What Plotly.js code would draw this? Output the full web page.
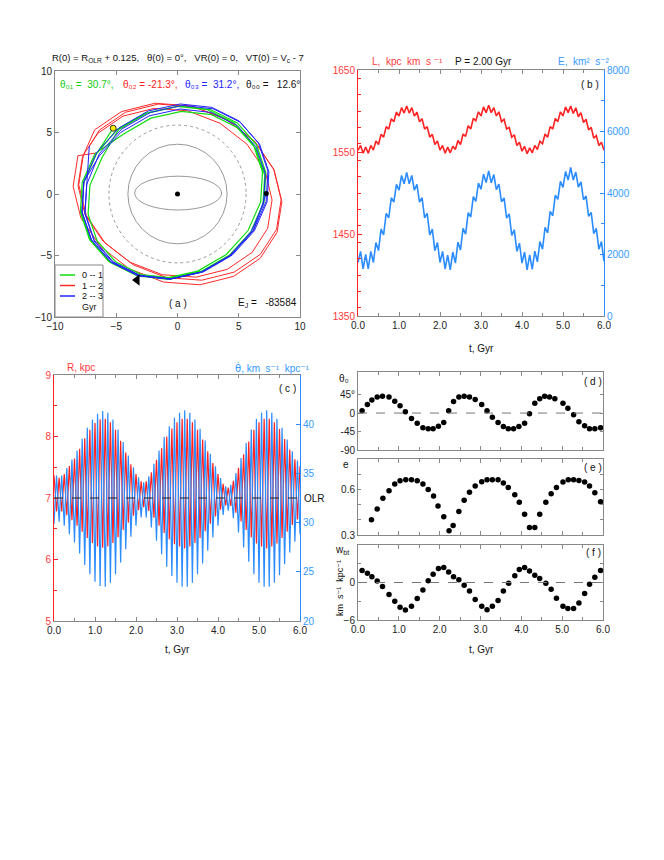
<!DOCTYPE html>
<html><head><meta charset="utf-8">
<script src="https://cdn.plot.ly/plotly-3.0.1.min.js"></script>
<style>html,body{margin:0;padding:0;background:#fff}#chart{width:664px;height:860px}</style>
</head><body><div id="chart"></div>
<script>
// ---------------- DATA ----------------
// Panel (a): orbit in the rotating frame (kpc)
const greenX = [-5.25,-6.62,-7.66,-7.81,-7.05,-5.48,-3.29,-0.73,1.87,4.22,6.02,7.06,7.21,6.45,4.88,2.68,0.13,-2.47,-4.82,
  -6.16,-7.15,-7.30,-6.57,-5.06,-2.96,-0.50,1.99,4.25,5.98,6.98,7.12,6.39,4.88,2.77,0.32,-2.17,-4.43,
  -6.75,-7.78,-7.93,-7.18,-5.63,-3.46,-0.92,1.65,3.98,5.76,6.79,6.94,6.19,4.63,2.45,-0.07,-2.65,-4.97,-6.55];
const greenY = [5.35,3.25,0.90,-1.55,-3.80,-5.58,-6.67,-6.95,-6.38,-5.02,-3.05,-0.70,1.75,4.00,5.78,6.87,7.15,6.58,5.22,
  2.97,0.71,-1.64,-3.80,-5.51,-6.55,-6.82,-6.27,-4.97,-3.08,-0.82,1.53,3.69,5.40,6.45,6.71,6.17,4.86,
  3.27,0.94,-1.48,-3.71,-5.47,-6.55,-6.83,-6.27,-4.92,-2.97,-0.64,1.78,4.01,5.77,6.85,7.13,6.56,5.22,3.35];
const redX = [-6.55,-8.13,-8.52,-7.89,-6.30,-3.95,-1.13,1.84,4.57,6.76,8.13,8.52,7.89,6.30,3.95,1.13,-1.84,-4.57,-6.76,
  -7.76,-8.12,-7.54,-6.06,-3.87,-1.25,1.51,4.05,6.09,7.36,7.72,7.14,5.66,3.47,0.85,-1.91,-4.45,-6.49,
  -7.69,-8.06,-7.45,-5.91,-3.63,-0.90,1.98,4.63,6.76,8.09,8.46,7.85,6.31,4.03,1.30,-1.58,-4.23,-6.36,-7.20];
const redY = [3.35,3.11,0.62,-1.94,-4.26,-6.08,-7.16,-7.38,-6.70,-5.22,-3.11,-0.62,1.94,4.26,6.08,7.16,7.38,6.70,5.22,
  2.99,0.68,-1.70,-3.86,-5.55,-6.56,-6.76,-6.13,-4.75,-2.79,-0.48,1.90,4.06,5.75,6.76,6.96,6.33,4.95,
  3.17,0.75,-1.73,-3.98,-5.75,-6.80,-7.01,-6.35,-4.91,-2.87,-0.45,2.03,4.28,6.05,7.10,7.31,6.65,5.21,3.90];
const blueX = [-7.20,-7.41,-7.56,-6.80,-5.23,-3.04,-0.48,2.12,4.47,6.27,7.31,7.46,6.70,5.13,2.93,0.38,-2.22,-4.57,-6.37,
  -7.41,-7.55,-6.81,-5.27,-3.12,-0.62,1.93,4.24,6.00,7.02,7.17,6.42,4.88,2.73,0.23,-2.32,-4.62,-6.39,
  -7.64,-7.79,-7.02,-5.43,-3.22,-0.64,1.99,4.36,6.18,7.23,7.38,6.61,5.03,2.81,0.23,-2.39,-4.77,-6.59,
  -7.64,-7.79,-7.02,-5.43,-3.22,-0.64,1.99,4.36,6.18,7.25];
const blueY = [3.90,0.95,-1.50,-3.75,-5.53,-6.62,-6.90,-6.33,-4.97,-3.00,-0.65,1.80,4.05,5.83,6.92,7.20,6.63,5.27,3.30,
  0.78,-1.62,-3.82,-5.57,-6.64,-6.91,-6.35,-5.02,-3.09,-0.79,1.62,3.82,5.56,6.63,6.91,6.35,5.02,3.09,
  1.01,-1.47,-3.74,-5.54,-6.64,-6.92,-6.34,-4.97,-2.98,-0.61,1.87,4.14,5.94,7.04,7.32,6.75,5.37,3.38,
  1.01,-1.47,-3.74,-5.54,-6.64,-6.92,-6.34,-4.97,-2.98,0.05];
const startX = [-5.25], startY = [5.35];
const endX = [7.25], endY = [0.05];
const centreX = [0], centreY = [0];
const arrowX = [-3.3], arrowY = [-7.0];

// Panels (b),(c): time grid start and step (Gyr)
const tStart = 0, tStep = 0.0625;
const angMom = [1552,1558,1548.5,
  1556,1548.5,1558,1552.3,1563.3,1559.1,1571.5,1568.1,1581,1577.9,1590.6,1586.9,1598.7,1593.8,1604.1,1597.5,1606,1597.5,1604.1,1593.8,1598.7,1586.9,1590.6,1577.9,1581,1568.1,1571.5,1559.1,1563.3,1552.3,1558,1548.5,
  1556,1549,1557,1553,1564,1559,1572,1569,1582,1578,1591,1588,1599,1594,1605,1598,1607,1598,1604,1594,1599,1587,1590,1578,1580,1568,1571,1558,1562,1551,1557,1548,
  1555,1549,1558,1553,1563,1560,1572,1568,1581,1578,1591,1587,1599,1594,1605,1598,1606,1597,1604,1593,1598,1586,1590,1577,1580,1567,1570,1558,1562,1552];
const energy = [1741,2102,1529,
  2000,1529,2102,1741,2390,2129,2825,2638,3335,3193,3845,3702,4281,4089,4569,4302,4670,4302,4569,4089,4281,3702,3845,3193,3335,2638,2825,2129,2390,1741,2102,1529,
  1980,1500,2080,1720,2400,2150,2850,2660,3360,3220,3880,3730,4320,4120,4610,4340,4720,4330,4600,4110,4290,3710,3840,3180,3320,2620,2800,2100,2370,1720,2080,1500,
  1990,1520,2110,1760,2420,2170,2880,2700,3400,3260,3930,3790,4380,4180,4700,4420,4830,4420,4680,4190,4360,3780,3900,3240,3370,2680,2850,2170,2420,1780];
const radius = [7.37,6.78,7.33,6.78,7.39,6.72,7.52,6.64,7.64,6.55,
  7.80,6.45,7.97,6.35,8.11,6.27,8.22,6.21,8.28,6.19,
  8.29,6.21,8.23,6.27,8.11,6.36,7.93,6.48,7.74,6.60,
  7.55,6.71,7.39,6.80,7.27,6.85,7.27,6.79,7.42,6.68,
  7.62,6.55,7.81,6.43,8.00,6.33,8.13,6.25,8.23,6.21,
  8.29,6.18,8.29,6.21,8.23,6.27,8.11,6.35,7.95,6.46,
  7.76,6.58,7.57,6.70,7.39,6.81,7.23,6.88,7.17,6.87,
  7.28,6.76,7.49,6.62,7.71,6.48,7.92,6.36,8.11,6.26,
  8.23,6.21,8.29,6.18,8.29,6.21,8.23,6.26,8.12,6.35,
  7.96,6.45,7.79,6.56,7.63,6.65,7.52];
const thetaDot = [29.85,34.78,30.10,34.78,29.68,35.55,28.83,36.40,27.98,37.33,
  26.87,38.52,25.68,39.63,24.75,40.48,23.98,41.07,23.56,41.33,
  23.47,41.16,23.90,40.48,24.75,39.46,25.94,38.18,27.30,36.82,
  28.57,35.63,29.68,34.61,30.53,34.10,30.53,34.70,29.51,35.97,
  28.15,37.33,26.79,38.69,25.51,39.80,24.58,40.65,23.90,41.16,
  23.47,41.41,23.47,41.16,23.90,40.48,24.75,39.54,25.85,38.35,
  27.13,36.99,28.49,35.72,29.68,34.53,30.78,33.68,31.21,33.85,
  30.44,35.04,29.00,36.57,27.47,38.10,26.02,39.46,24.75,40.56,
  23.90,41.16,23.47,41.41,23.47,41.16,23.90,40.56,24.66,39.63,
  25.77,38.44,26.96,37.25,28.06,36.31,28.83];

// Panel (d)
const tTheta = [0.10,0.23,0.34,0.47,0.60,0.76,0.90,1.03,1.16,1.31,1.45,1.59,1.72,1.84,1.97,2.10,2.22,2.34,2.47,2.60,2.73,2.87,3.03,3.16,3.29,3.43,3.56,3.68,3.81,3.94,4.08,4.20,4.33,4.45,4.57,4.69,4.82,5.02,5.14,5.28,5.41,5.55,5.67,5.80,5.94];
const theta0 = [5.5,21,32,39,41,39,29,18,3,-13,-25,-36,-38,-38,-32,-23,5.5,28,39,41,39,33,21,5.5,-10,-23,-33,-38,-38,-33,-25,-2,24,35,41,39,35,24,12,-4,-21,-31,-38,-38,-36];
// Panel (e)
const tEcc = [0.33,0.47,0.61,0.76,0.90,1.03,1.17,1.31,1.45,1.59,1.72,1.85,1.96,2.10,2.23,2.33,2.47,2.60,2.73,2.87,3.03,3.16,3.29,3.43,3.56,3.68,3.84,3.95,4.08,4.20,4.33,4.45,4.60,4.73,4.86,5.02,5.15,5.28,5.41,5.55,5.67,5.80,5.94];
const ecc = [0.40,0.471,0.541,0.591,0.635,0.657,0.664,0.664,0.657,0.635,0.600,0.556,0.49,0.42,0.328,0.363,0.455,0.528,0.582,0.622,0.650,0.664,0.664,0.664,0.642,0.613,0.565,0.515,0.436,0.350,0.350,0.436,0.515,0.572,0.613,0.648,0.664,0.664,0.659,0.648,0.622,0.578,0.519];
// Panel (f)
const tW = [0.10,0.23,0.34,0.47,0.60,0.76,0.90,1.03,1.16,1.31,1.45,1.59,1.72,1.84,1.97,2.10,2.22,2.34,2.47,2.60,2.73,2.87,3.03,3.16,3.29,3.43,3.56,3.69,3.84,3.95,4.08,4.20,4.33,4.45,4.60,4.73,4.86,5.02,5.14,5.28,5.41,5.55,5.67,5.80,5.94];
const wbt = [1.91,1.47,0.93,0.22,-0.65,-1.91,-3.0,-3.98,-4.42,-3.82,-2.56,-1.2,0.27,1.31,2.24,2.40,1.69,0.93,0.44,-0.44,-1.36,-2.73,-3.82,-4.36,-3.82,-2.89,-1.36,-0.11,1.09,2.07,2.40,1.85,1.15,0.65,-0.11,-1.09,-2.51,-3.82,-4.15,-4.15,-3.27,-1.75,-0.27,0.82,1.91];

// ---------------- STYLE / LAYOUT ----------------
const W = 664, H = 860;
const PX = x => x / W, PY = y => 1 - y / H;
const RED = '#ff2222', BLUE = '#2a8cff', GRN = '#11dd11', ORB_RED = '#ff2a2a', ORB_BLUE = '#2222ff';
const REDTXT = '#ff3a3a', BLUETXT = '#3399ff', AX = '#888888';
const FONT = 'Liberation Sans, Arial, DejaVu Sans, sans-serif';

const traces = [
  {x: redX, y: redY, xaxis: 'x', yaxis: 'y', mode: 'lines', line: {color: ORB_RED, width: 1}},
  {x: greenX, y: greenY, xaxis: 'x', yaxis: 'y', mode: 'lines', line: {color: GRN, width: 1.2}},
  {x: blueX, y: blueY, xaxis: 'x', yaxis: 'y', mode: 'lines', line: {color: ORB_BLUE, width: 1}},
  {x: centreX, y: centreY, xaxis: 'x', yaxis: 'y', mode: 'markers', marker: {color: '#000', size: 5}},
  {x: endX, y: endY, xaxis: 'x', yaxis: 'y', mode: 'markers', marker: {color: '#000', size: 5}},
  {x: startX, y: startY, xaxis: 'x', yaxis: 'y', mode: 'markers', marker: {color: '#ffee00', size: 6, line: {color: '#333', width: 1}}},
  {x: arrowX, y: arrowY, xaxis: 'x', yaxis: 'y', mode: 'markers', marker: {color: '#000', size: 10, symbol: 'triangle-left'}},
  // (b)
  {y: angMom, x0: tStart, dx: tStep, xaxis: 'x2', yaxis: 'y2', mode: 'lines', line: {color: RED, width: 1.6}},
  {y: energy, x0: tStart, dx: tStep, xaxis: 'x2', yaxis: 'y3', mode: 'lines', line: {color: BLUE, width: 1.6}},
  // (c)
  {y: thetaDot, x0: tStart, dx: tStep, xaxis: 'x3', yaxis: 'y5', mode: 'lines', line: {color: BLUE, width: 1.2}},
  {y: radius, x0: tStart, dx: tStep, xaxis: 'x3', yaxis: 'y4', mode: 'lines', line: {color: RED, width: 1.2}},
  // (d),(e),(f)
  {x: tTheta, y: theta0, xaxis: 'x4', yaxis: 'y6', mode: 'markers', marker: {color: '#000', size: 5.5}},
  {x: tEcc, y: ecc, xaxis: 'x5', yaxis: 'y7', mode: 'markers', marker: {color: '#000', size: 5.5}},
  {x: tW, y: wbt, xaxis: 'x6', yaxis: 'y8', mode: 'markers', marker: {color: '#000', size: 5.5}}
];

const baseAx = {showgrid: false, zeroline: false, showline: true, linecolor: AX, linewidth: 1,
  ticks: 'inside', ticklen: 4, tickcolor: AX, tickfont: {size: 10, color: '#222'}, fixedrange: true};
const tAx = (dom, anchor, labels) => Object.assign({}, baseAx, {domain: dom, anchor: anchor, range: [0, 6],
  dtick: 1, tick0: 0, tickformat: '.1f', mirror: 'ticks', showticklabels: labels,
  minor: {dtick: 0.5, ticks: 'inside', ticklen: 3, tickcolor: AX}});

const layout = {
  width: W, height: H, margin: {l: 0, r: 0, t: 0, b: 0},
  paper_bgcolor: '#fff', plot_bgcolor: '#fff', showlegend: false,
  font: {family: FONT, size: 10, color: '#111'},
  xaxis: Object.assign({}, baseAx, {domain: [PX(55), PX(300)], anchor: 'y', range: [-10, 10], tickvals: [-10, -5, 0, 5, 10], mirror: 'ticks'}),
  yaxis: Object.assign({}, baseAx, {domain: [PY(317), PY(71)], anchor: 'x', range: [-10, 10], tickvals: [-10, -5, 0, 5, 10], mirror: 'ticks'}),
  xaxis2: tAx([PX(358), PX(604)], 'y2', true),
  yaxis2: Object.assign({}, baseAx, {domain: [PY(316), PY(70)], anchor: 'x2', range: [1350, 1650], dtick: 100, tick0: 1350,
    linecolor: RED, tickcolor: RED, tickfont: {size: 10, color: REDTXT}, minor: {dtick: 20, ticks: 'inside', ticklen: 3, tickcolor: RED}}),
  yaxis3: Object.assign({}, baseAx, {overlaying: 'y2', side: 'right', anchor: 'x2', range: [0, 8000], dtick: 2000,
    linecolor: BLUE, tickcolor: BLUE, tickfont: {size: 10, color: BLUETXT}, minor: {dtick: 1000, ticks: 'inside', ticklen: 3, tickcolor: BLUE}}),
  xaxis3: tAx([PX(54), PX(300)], 'y4', true),
  yaxis4: Object.assign({}, baseAx, {domain: [PY(621), PY(375)], anchor: 'x3', range: [5, 9], dtick: 1,
    linecolor: RED, tickcolor: RED, tickfont: {size: 10, color: REDTXT}, minor: {dtick: 0.5, ticks: 'inside', ticklen: 3, tickcolor: RED}}),
  yaxis5: Object.assign({}, baseAx, {overlaying: 'y4', side: 'right', anchor: 'x3', range: [20, 45], tickvals: [20, 25, 30, 35, 40],
    linecolor: BLUE, tickcolor: BLUE, tickfont: {size: 10, color: BLUETXT}}),
  xaxis4: tAx([PX(358), PX(603)], 'y6', false),
  yaxis6: Object.assign({}, baseAx, {domain: [PY(450), PY(372)], anchor: 'x4', range: [-90, 100], mirror: 'ticks', ticklen: 3,
    tickvals: [-90, -45, 0, 45], ticktext: ['-90', '-45', '0', '45°']}),
  xaxis5: tAx([PX(358), PX(603)], 'y7', false),
  yaxis7: Object.assign({}, baseAx, {domain: [PY(535), PY(459)], anchor: 'x5', range: [0.3, 0.8], mirror: 'ticks', ticklen: 3,
    tickvals: [0.3, 0.6], minor: {tickvals: [0.4, 0.5, 0.7], ticks: 'inside', ticklen: 3, tickcolor: AX}}),
  xaxis6: tAx([PX(358), PX(603)], 'y8', true),
  yaxis8: Object.assign({}, baseAx, {domain: [PY(620), PY(545)], anchor: 'x6', range: [-6, 6], mirror: 'ticks', ticklen: 3,
    tickvals: [-6, 0], minor: {tickvals: [-3, 3], ticks: 'inside', ticklen: 3, tickcolor: AX}}),
  shapes: [
    {type: 'circle', xref: 'x', yref: 'y', x0: -5.6, x1: 5.6, y0: -5.6, y1: 5.6, line: {color: '#999', width: 1, dash: 'dot'}},
    {type: 'circle', xref: 'x', yref: 'y', x0: -4.05, x1: 4.05, y0: -4.05, y1: 4.05, line: {color: '#999', width: 1}},
    {type: 'circle', xref: 'x', yref: 'y', x0: -3.5, x1: 3.6, y0: -1.3, y1: 1.45, line: {color: '#999', width: 1}},
    {type: 'line', xref: 'x4', yref: 'y6', x0: 0, x1: 6, y0: 0, y1: 0, line: {color: '#777', width: 1, dash: 'dash'}},
    {type: 'line', xref: 'x6', yref: 'y8', x0: 0, x1: 6, y0: 0, y1: 0, line: {color: '#777', width: 1, dash: 'dash'}},
    {type: 'line', xref: 'x3', yref: 'y4', x0: 0, x1: 6, y0: 7, y1: 7, line: {color: '#222', width: 1, dash: 'dash'}},
    // legend box of panel (a)
    {type: 'rect', xref: 'paper', yref: 'paper', x0: PX(55), x1: PX(103), y0: PY(317), y1: PY(265), fillcolor: '#fff', line: {color: AX, width: 1}},
    {type: 'line', xref: 'paper', yref: 'paper', x0: PX(60), x1: PX(75), y0: PY(275), y1: PY(275), line: {color: GRN, width: 1.5}},
    {type: 'line', xref: 'paper', yref: 'paper', x0: PX(60), x1: PX(75), y0: PY(285.5), y1: PY(285.5), line: {color: ORB_RED, width: 1.5}},
    {type: 'line', xref: 'paper', yref: 'paper', x0: PX(60), x1: PX(75), y0: PY(296), y1: PY(296), line: {color: ORB_BLUE, width: 1.5}}
  ],
  annotations: []
};

function txt(x, y, text, opts) {
  layout.annotations.push(Object.assign({xref: 'paper', yref: 'paper', x: PX(x), y: PY(y), text: text, showarrow: false,
    xanchor: 'center', yanchor: 'middle', font: {size: 10, color: '#111'}}, opts || {}));
}
// panel (a)
txt(178, 58, 'R(0) = R<sub>OLR</sub> + 0.125,   θ(0) = 0°,   VR(0) = 0,   VT(0) = V<sub>c</sub> - 7', {font: {size: 9.5, color: '#111'}});
txt(58, 85, 'θ₀₁ =  30.7°,', {xanchor: 'left', font: {size: 10, color: '#11cc11'}});
txt(121, 85, 'θ₀₂ = -21.3°,', {xanchor: 'left', font: {size: 10, color: '#ff2222'}});
txt(183, 85, 'θ₀₃ =  31.2°,', {xanchor: 'left', font: {size: 10, color: '#2222ff'}});
txt(244, 85, 'θ₀₀ =   12.6°', {xanchor: 'left'});
txt(178, 303, '( a )');
txt(236, 303, 'E<sub>J</sub> =   -83584', {xanchor: 'left'});
txt(80, 275, '0 -- 1', {xanchor: 'left', font: {size: 9, color: '#111'}});
txt(80, 285.5, '1 -- 2', {xanchor: 'left', font: {size: 9, color: '#111'}});
txt(80, 296, '2 -- 3', {xanchor: 'left', font: {size: 9, color: '#111'}});
txt(80, 306.5, 'Gyr', {xanchor: 'left', font: {size: 9, color: '#111'}});
// panel (b)
txt(370, 61, 'L,  kpc  km  s ⁻¹', {xanchor: 'left', font: {size: 10, color: REDTXT}});
txt(483, 61, 'P = 2.00 Gyr');
txt(556, 61, 'E,  km²  s⁻²', {xanchor: 'left', font: {size: 10, color: BLUETXT}});
txt(590, 85, '( b )');
txt(481, 348, 't, Gyr');
// panel (c)
txt(65, 367, 'R, kpc', {xanchor: 'left', font: {size: 10, color: REDTXT}});
txt(233, 367, '<span style="font-family:DejaVu Sans">\u03B8\u0307</span>, km  s⁻¹  kpc⁻¹', {xanchor: 'left', font: {size: 10, color: BLUETXT}});
txt(287, 388, '( c )');
txt(177, 649, 't, Gyr');
layout.annotations.push({xref: 'paper', yref: 'y4', x: PX(302), y: 7, text: 'OLR', showarrow: false, xanchor: 'left', yanchor: 'middle', font: {size: 10, color: '#111'}});
// panels (d),(e),(f)
txt(593, 382, '( d )');
txt(593, 467, '( e )');
txt(593, 552, '( f )');
txt(351, 378, 'θ₀', {xanchor: 'right'});
txt(351, 465, 'e', {xanchor: 'right'});
txt(351, 550, 'w<sub>bt</sub>', {xanchor: 'right'});
txt(340, 588, 'km  s⁻¹  kpc⁻¹', {textangle: -90, font: {size: 9, color: '#111'}});
txt(481, 649, 't, Gyr');

Plotly.newPlot('chart', traces, layout, {staticPlot: true, displayModeBar: false});
</script>
</body></html>
